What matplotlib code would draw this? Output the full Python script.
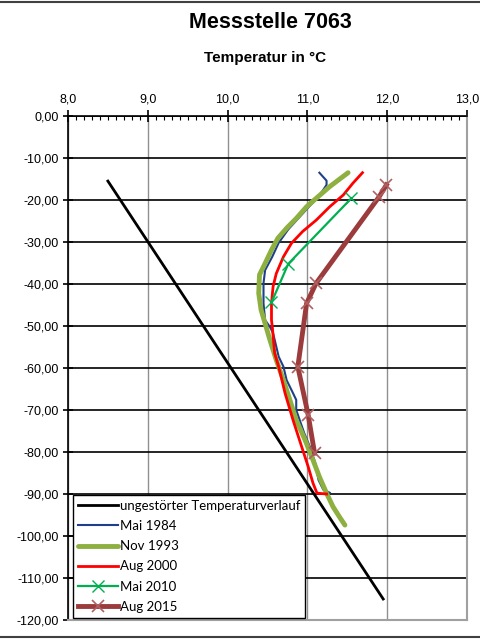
import matplotlib
matplotlib.use("Agg")
import matplotlib.pyplot as plt
from matplotlib.ticker import MultipleLocator, FuncFormatter
from matplotlib.lines import Line2D

# ---- data ----
ref_temp = [8.5, 11.95]
ref_depth = [-15.5, -115.0]

mai1984_temp = [11.15, 11.24, 11.24, 11.17, 11.12, 11.00, 10.88, 10.76, 10.64, 10.56, 10.47, 10.45,
                10.45, 10.47, 10.53, 10.57, 10.64, 10.70, 10.74, 10.82, 10.86, 10.86, 10.96, 11.03,
                11.10, 11.14, 11.20, 11.28]
mai1984_depth = [-13.5, -15.4, -16.4, -18.4, -19.6, -22.0, -24.5, -27.0, -30.2, -33.5, -36.7, -39.8,
                 -44.6, -48.6, -50.2, -51.7, -57.3, -59.7, -62.9, -66.0, -67.6, -70.0, -75.5, -78.7,
                 -82.7, -86.7, -89.0, -89.7]

nov1993_temp = [11.51, 11.28, 11.11, 10.99, 10.86, 10.74, 10.63, 10.55, 10.47, 10.40, 10.39, 10.42,
                10.47, 10.53, 10.61, 10.70, 10.78, 10.86, 10.97, 11.07, 11.15, 11.24, 11.32, 11.40, 11.47]
nov1993_depth = [-13.5, -16.8, -19.6, -21.6, -24.4, -26.7, -29.1, -31.9, -35.1, -37.8, -42.2, -46.2,
                 -49.4, -53.3, -58.1, -62.9, -67.6, -72.4, -77.1, -81.9, -85.9, -89.8, -93.0, -95.4, -97.4]

aug2000_temp = [11.69, 11.57, 11.45, 11.28, 11.11, 10.94, 10.80, 10.70, 10.61, 10.57, 10.55, 10.55,
                10.56, 10.59, 10.64, 10.72, 10.82, 10.90, 11.01, 11.07, 11.12, 11.24]
aug2000_depth = [-13.5, -16.0, -18.8, -21.6, -24.8, -27.5, -30.3, -33.5, -37.5, -40.6, -44.6, -48.6,
                 -50.2, -56.5, -59.7, -66.0, -72.4, -77.1, -83.5, -87.4, -89.8, -90.0]

mai2010_temp = [11.55, 10.76, 10.55]
mai2010_depth = [-19.6, -35.2, -44.4]

aug2015_temp = [11.99, 11.90, 11.11, 10.99, 10.88, 11.01, 11.09]
aug2015_depth = [-16.4, -19.2, -39.8, -44.6, -59.7, -71.2, -80.3]

labels = ["ungestörter Temperaturverlauf", "Mai 1984", "Nov 1993", "Aug 2000", "Mai 2010", "Aug 2015"]

# ---- figure ----
fig = plt.figure(figsize=(4.8, 6.4), dpi=100)
ax = fig.add_axes([68/480, 1-620/640, (467-68)/480, (620-116)/640])

ax.plot(ref_temp, ref_depth, color="black", lw=2.0, label=labels[0], zorder=3)
ax.plot(mai1984_temp, mai1984_depth, color="#1F3F8A", lw=1.5, label=labels[1], zorder=3)
ax.plot(nov1993_temp, nov1993_depth, color="#8DB040", lw=3.5, label=labels[2], zorder=4,
        solid_capstyle="round")
ax.plot(aug2000_temp, aug2000_depth, color="#FF0000", lw=2.0, label=labels[3], zorder=5)
ax.plot(mai2010_temp, mai2010_depth, color="#00B050", lw=1.6, marker="x", ms=8, mew=1.0,
        label=labels[4], zorder=6)
ax.plot(aug2015_temp, aug2015_depth, color="#9B3B3B", lw=3.5, marker="x", ms=9, mew=1.2,
        mec="#B06060", label=labels[5], zorder=7)

ax.set_xlim(8.0, 13.0)
ax.set_ylim(-120, 0)

ax.xaxis.set_ticks_position("top")
ax.xaxis.set_major_locator(MultipleLocator(1.0))
ax.xaxis.set_minor_locator(MultipleLocator(0.1))
ax.yaxis.set_major_locator(MultipleLocator(10))
ax.xaxis.set_major_formatter(FuncFormatter(lambda v, p: f"{v:.1f}".replace(".", ",")))
ax.yaxis.set_major_formatter(FuncFormatter(lambda v, p: f"{v:.2f}".replace(".", ",")))

ax.tick_params(axis="x", which="major", direction="inout", length=9, width=1.2, labelsize=9,
               pad=3, colors="black")
ax.tick_params(axis="x", which="minor", direction="in", length=3, width=0.8)
ax.tick_params(axis="y", which="major", direction="inout", length=7, width=1.2, labelsize=9, pad=3)

for lab in ax.get_xticklabels() + ax.get_yticklabels():
    lab.set_fontfamily("Liberation Sans")

ax.grid(axis="y", color="black", lw=1.2, zorder=1)
ax.grid(axis="x", color="#909090", lw=1.0, zorder=1)

ax.spines["top"].set_color("black")
ax.spines["top"].set_linewidth(1.2)
ax.spines["left"].set_color("black")
ax.spines["left"].set_linewidth(1.2)
ax.spines["right"].set_color("#A0A0A0")
ax.spines["right"].set_linewidth(1.5)
ax.spines["bottom"].set_color("#A0A0A0")
ax.spines["bottom"].set_linewidth(1.5)

leg = ax.legend(loc="lower left", bbox_to_anchor=(0.012, 0.004), frameon=True, fancybox=False,
                edgecolor="black", framealpha=1.0, prop={"family": "Lato", "size": 9.5},
                handlelength=3.0, handletextpad=0.15, labelspacing=0.62, borderpad=0.4,
                borderaxespad=0.0)
leg.get_frame().set_linewidth(1.0)
leg.set_zorder(10)

fig.text(270/480, 1-22/640, "Messstelle 7063", ha="center", va="center", fontsize=15.5,
         fontweight="bold", family="Liberation Sans")
fig.text(265/480, 1-58/640, "Temperatur in °C", ha="center", va="center", fontsize=11,
         fontweight="bold", family="Liberation Sans")

fig.add_artist(Line2D([0, 1], [1-1.5/640, 1-1.5/640], color="#404040", lw=1.5, transform=fig.transFigure))
fig.add_artist(Line2D([0, 1], [3/640, 3/640], color="#404040", lw=1.5, transform=fig.transFigure))

fig.savefig("out.png", dpi=100)
